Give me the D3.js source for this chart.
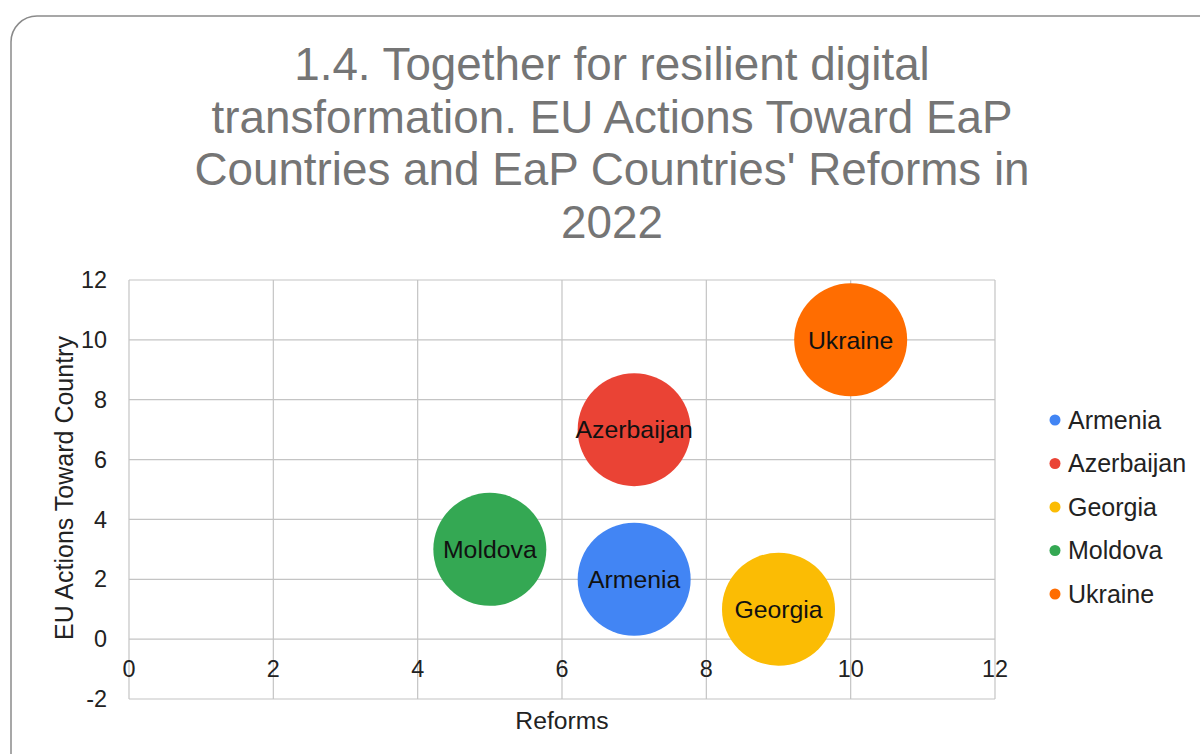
<!DOCTYPE html>
<html>
<head>
<meta charset="utf-8">
<script src="https://cdnjs.cloudflare.com/ajax/libs/d3/7.8.5/d3.min.js"></script>
<style>
  body { margin: 0; background: #fff; }
  svg { font-family: "Liberation Sans", Arial, sans-serif; }
  .grid line { stroke: #c4c4c4; stroke-width: 1.2; }
</style>
</head>
<body>
<svg width="1200" height="754"></svg>
<script>
// data
var countries = ["Armenia", "Azerbaijan", "Georgia", "Moldova", "Ukraine"];
var reforms = [7, 7, 9, 5, 10];
var euActions = [2, 7, 1, 3, 10];
var bubbleSize = [1, 1, 1, 1, 1];
var colors = ["#4285f4", "#ea4335", "#fbbc04", "#34a853", "#ff6d01"];
var xTicks = [0, 2, 4, 6, 8, 10, 12];
var yTicks = [-2, 0, 2, 4, 6, 8, 10, 12];
var titleLines = [
    "1.4. Together for resilient digital",
    "transformation. EU Actions Toward EaP",
    "Countries and EaP Countries' Reforms in",
    "2022"
];

var svg = d3.select("svg"),
    margin = { top: 280, left: 129, right: 205, bottom: 55 },
    width = 1200 - margin.left - margin.right,
    height = 754 - margin.top - margin.bottom;

// card frame
svg.append("rect")
    .attr("x", 11)
    .attr("y", 16)
    .attr("width", 1230)
    .attr("height", 780)
    .attr("rx", 26)
    .attr("ry", 26)
    .style("fill", "#fff")
    .style("stroke", "#8a8a8a")
    .style("stroke-width", 1.5);

// title
svg.append("g")
    .selectAll("text")
    .data(titleLines)
    .enter().append("text")
    .attr("x", 612)
    .attr("y", function(d, i) { return 80 + i * 52.5; })
    .attr("text-anchor", "middle")
    .style("font-size", "45.8px")
    .style("fill", "#757575")
    .text(function(d) { return d; });

var x = d3.scaleLinear().domain([0, 12]).range([0, width]);
var y = d3.scaleLinear().domain([-2, 12]).range([height, 0]);
var r = d3.scaleSqrt().domain([0, 1]).range([0, 56.5]);

var g = svg.append("g")
    .attr("transform", "translate(" + margin.left + "," + margin.top + ")");

// gridlines
var grid = g.append("g").attr("class", "grid");
grid.selectAll(".vx")
    .data(xTicks)
    .enter().append("line")
    .attr("x1", x).attr("x2", x)
    .attr("y1", 0).attr("y2", height);
grid.selectAll(".hy")
    .data(yTicks)
    .enter().append("line")
    .attr("x1", 0).attr("x2", width)
    .attr("y1", y).attr("y2", y);

// y axis labels
g.append("g")
    .selectAll("text")
    .data(yTicks)
    .enter().append("text")
    .attr("x", -22)
    .attr("y", y)
    .attr("dy", "0.35em")
    .attr("text-anchor", "end")
    .style("font-size", "23.4px")
    .style("fill", "#222")
    .text(function(d) { return d; });

// x axis labels sit just under the zero line
g.append("g")
    .selectAll("text")
    .data(xTicks)
    .enter().append("text")
    .attr("x", x)
    .attr("y", y(0) + 30)
    .attr("dy", "0.35em")
    .attr("text-anchor", "middle")
    .style("font-size", "23.4px")
    .style("fill", "#222")
    .text(function(d) { return d; });

// axis titles
svg.append("text")
    .attr("x", 562)
    .attr("y", 729)
    .attr("text-anchor", "middle")
    .style("font-size", "24.7px")
    .style("fill", "#222")
    .text("Reforms");

svg.append("text")
    .attr("transform", "translate(73,488) rotate(-90)")
    .attr("text-anchor", "middle")
    .style("font-size", "25px")
    .style("fill", "#222")
    .text("EU Actions Toward Country");

// bubbles
var bubbles = g.selectAll(".bubble")
    .data(countries)
    .enter().append("g")
    .attr("class", "bubble");

bubbles.append("circle")
    .attr("cx", function(d, i) { return x(reforms[i]); })
    .attr("cy", function(d, i) { return y(euActions[i]); })
    .attr("r", function(d, i) { return r(bubbleSize[i]); })
    .style("fill", function(d, i) { return colors[i]; });

bubbles.append("text")
    .attr("x", function(d, i) { return x(reforms[i]); })
    .attr("y", function(d, i) { return y(euActions[i]); })
    .attr("dy", "0.35em")
    .attr("text-anchor", "middle")
    .style("font-size", "24.8px")
    .style("fill", "#111")
    .text(function(d) { return d; });

// legend
var legend = svg.append("g")
    .attr("transform", "translate(1055,420)");
var items = legend.selectAll("g")
    .data(countries)
    .enter().append("g")
    .attr("transform", function(d, i) { return "translate(0," + i * 43.5 + ")"; });
items.append("circle")
    .attr("r", 5.5)
    .style("fill", function(d, i) { return colors[i]; });
items.append("text")
    .attr("x", 13)
    .attr("dy", "0.35em")
    .style("font-size", "25px")
    .style("fill", "#222")
    .text(function(d) { return d; });
</script>
</body>
</html>
